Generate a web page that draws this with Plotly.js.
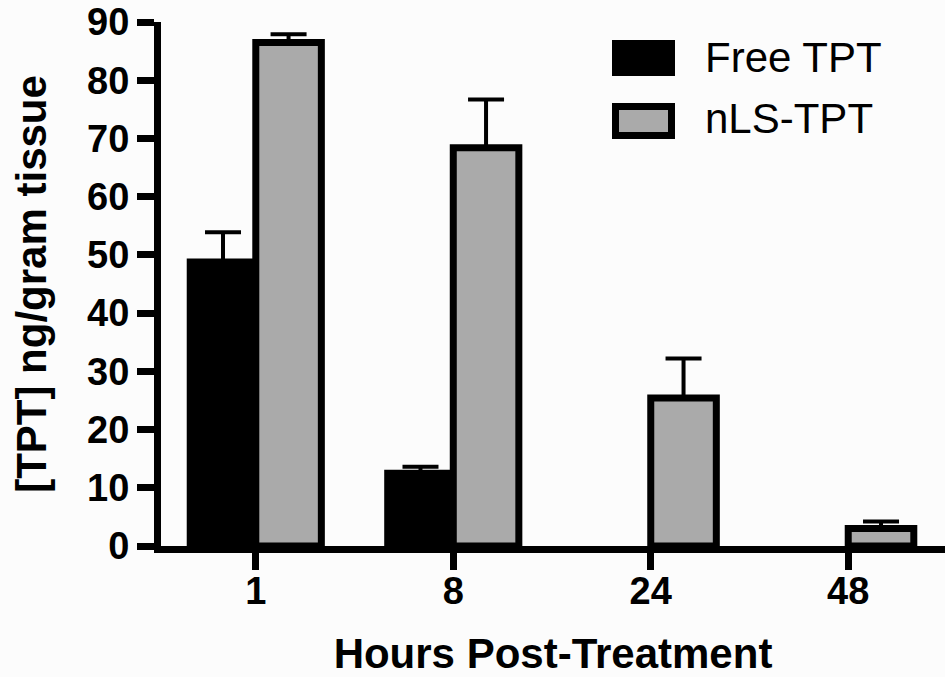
<!DOCTYPE html>
<html>
<head>
<meta charset="utf-8">
<script src="https://cdn.plot.ly/plotly-3.0.1.min.js"></script>
<style>html,body{margin:0;padding:0;background:#fcfcfc;}#chart{width:945px;height:677px;}</style>
</head>
<body>
<div id="chart"></div>
<script>
var categories = ["1", "8", "24", "48"];
var freeTPT = [48.8, 12.5, null, null];
var freeTPTErr = [5.1, 1.1, 0, 0];
var nlsTPT = [86.5, 68.4, 25.4, 3.0];
var nlsTPTErr = [1.4, 8.3, 6.8, 1.2];
var zeros = [0, 0, 0, 0];
var yTicks = [0, 10, 20, 30, 40, 50, 60, 70, 80, 90];
var seriesNames = ["Free TPT", "nLS-TPT"];

var tickFont = {family: '"Liberation Sans Narrow", "Arial Narrow", "Liberation Sans", Arial, sans-serif', size: 38, color: '#000', weight: 'bold'};
var titleFont = {family: '"Liberation Sans", Arial, sans-serif', size: 42, color: '#000', weight: 'bold'};
var legFont = {family: '"Liberation Sans", Arial, sans-serif', size: 42, color: '#000'};

var traces = [
  {
    type: 'bar', name: seriesNames[0], x: categories, y: freeTPT,
    marker: {color: '#000000', line: {color: '#000000', width: 7}},
    error_y: {type: 'data', symmetric: false, array: freeTPTErr, arrayminus: zeros, color: '#000', thickness: 4, width: 18},
    showlegend: false
  },
  {
    type: 'bar', name: seriesNames[1], x: categories, y: nlsTPT,
    marker: {color: '#aaaaaa', line: {color: '#000000', width: 7}},
    error_y: {type: 'data', symmetric: false, array: nlsTPTErr, arrayminus: zeros, color: '#000', thickness: 4, width: 18},
    showlegend: false
  }
];

var L = 161, R = 945, T = 22, B = 546;
function px(x) { return (x - L) / (R - L); }
function py(y) { return (B - y) / (B - T); }

var layout = {
  width: 945, height: 677,
  paper_bgcolor: '#fcfcfc', plot_bgcolor: '#fcfcfc',
  margin: {l: L, r: 945 - R, t: T, b: 677 - B, pad: 0},
  barmode: 'group', bargap: 0.336, bargroupgap: 0,
  showlegend: false,
  xaxis: {
    type: 'category', range: [-0.48, 3.49],
    showline: true, linecolor: '#000', linewidth: 7,
    ticks: 'outside', ticklen: 17, tickwidth: 7, tickcolor: '#000',
    ticklabelstandoff: -12,
    tickfont: tickFont, showgrid: false, zeroline: false, fixedrange: true,
    title: {text: 'Hours Post-Treatment', font: titleFont, standoff: 32}
  },
  yaxis: {
    range: [0, 90], tickvals: yTicks, ticktext: yTicks.map(String),
    showline: true, linecolor: '#000', linewidth: 7,
    ticks: 'outside', ticklen: 17, tickwidth: 7, tickcolor: '#000',
    tickfont: tickFont, showgrid: false, zeroline: false, fixedrange: true,
    title: {text: '[TPT] ng/gram tissue', font: titleFont, standoff: 30}
  },
  shapes: [
    {type: 'rect', xref: 'paper', yref: 'paper', x0: px(615.5), x1: px(671.5), y0: py(72.5), y1: py(43.5),
     fillcolor: '#000', line: {color: '#000', width: 7}},
    {type: 'rect', xref: 'paper', yref: 'paper', x0: px(615.5), x1: px(671.5), y0: py(135.5), y1: py(106.5),
     fillcolor: '#aaaaaa', line: {color: '#000', width: 7}}
  ],
  annotations: [
    {xref: 'paper', yref: 'paper', x: px(703), y: py(57), xanchor: 'left', yanchor: 'middle', showarrow: false,
     text: seriesNames[0], font: legFont},
    {xref: 'paper', yref: 'paper', x: px(703), y: py(119), xanchor: 'left', yanchor: 'middle', showarrow: false,
     text: seriesNames[1], font: legFont}
  ]
};

Plotly.newPlot('chart', traces, layout, {displayModeBar: false, staticPlot: true});
</script>
</body>
</html>
